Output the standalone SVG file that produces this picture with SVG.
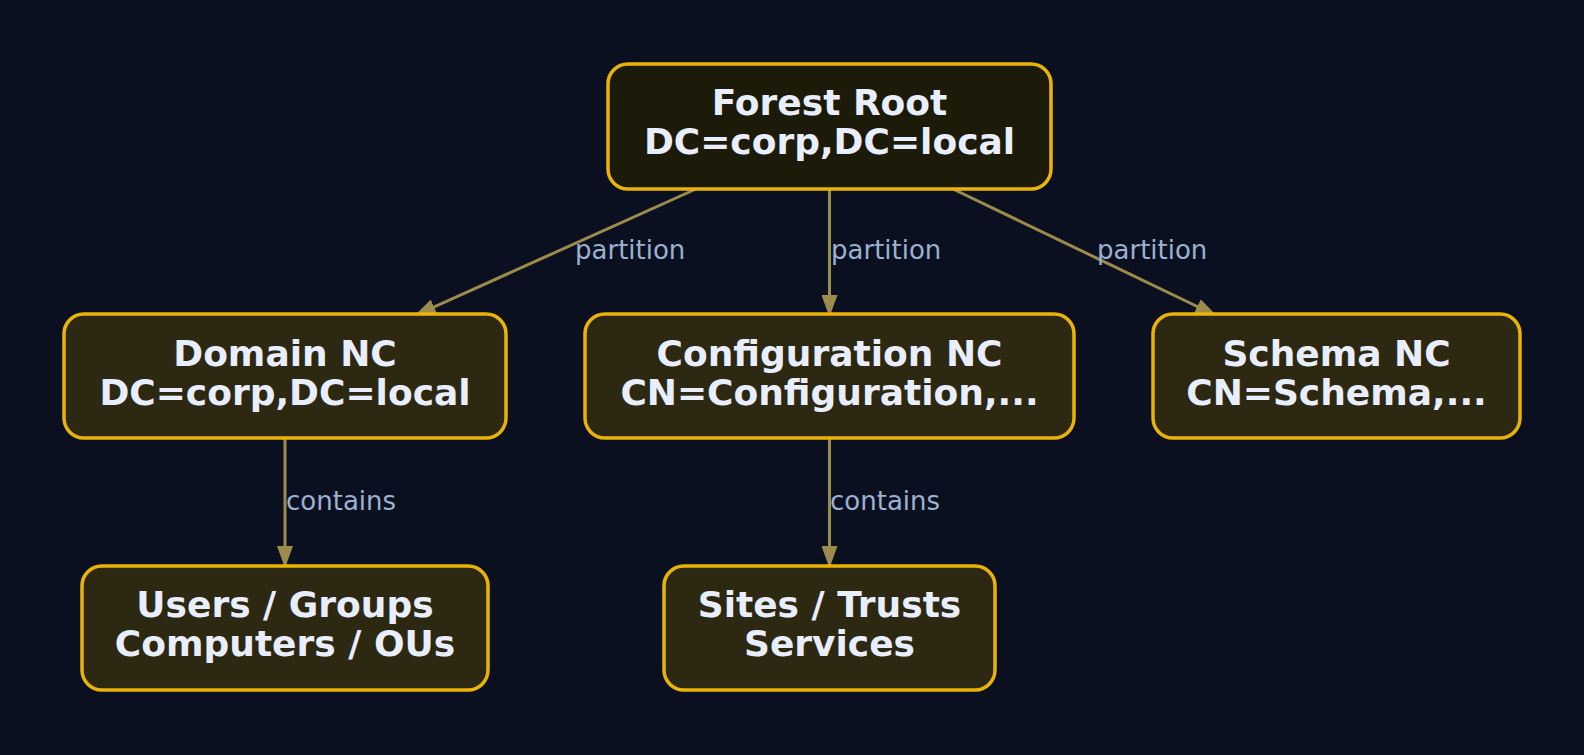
<svg xmlns="http://www.w3.org/2000/svg" width="1584" height="755" viewBox="0 0 1584 755">
  <style>
    .node rect { stroke: #eab308; stroke-width: 3.5; }
    .root rect { fill: #1c1a09; }
    .nc rect { fill: #2d2812; }
    .node text { font-family: "DejaVu Sans", sans-serif; font-weight: bold; font-size: 36px; fill: #e8eefc; text-anchor: middle; }
    .edge { stroke: #9c8b4c; stroke-width: 3; fill: none; marker-end: url(#arrow); }
    .elabel { font-family: "DejaVu Sans", sans-serif; font-size: 26px; fill: #9cb0d2; }
  </style>
  <defs>
    <marker id="arrow" markerUnits="userSpaceOnUse" markerWidth="22" markerHeight="16" refX="22" refY="8" orient="auto">
      <path d="M0,0 L22,8 L0,16 z" fill="#9c8b4c"/>
    </marker>
  </defs>
  <rect x="0" y="0" width="1584" height="755" fill="#0b1020"/>

  <g id="connectors">
    <line class="edge" x1="696" y1="189" x2="414" y2="316"/>
    <line class="edge" x1="829.5" y1="189" x2="829.5" y2="317"/>
    <line class="edge" x1="953" y1="189" x2="1217" y2="316"/>
    <line class="edge" x1="285" y1="438" x2="285" y2="568"/>
    <line class="edge" x1="829.5" y1="438" x2="829.5" y2="568"/>
    <text class="elabel" x="575" y="259">partition</text>
    <text class="elabel" x="831" y="259">partition</text>
    <text class="elabel" x="1097" y="259">partition</text>
    <text class="elabel" x="286" y="510">contains</text>
    <text class="elabel" x="830" y="510">contains</text>
  </g>

  <g id="forest-root" class="node root">
    <rect x="608" y="64" width="443" height="125" rx="20"/>
    <text x="829.5" y="115">Forest Root</text>
    <text x="829.5" y="154">DC=corp,DC=local</text>
  </g>
  <g id="domain-nc" class="node nc">
    <rect x="64" y="314" width="442" height="124" rx="20"/>
    <text x="285" y="366">Domain NC</text>
    <text x="285" y="405">DC=corp,DC=local</text>
  </g>
  <g id="config-nc" class="node nc">
    <rect x="585" y="314" width="489" height="124" rx="20"/>
    <text x="829.5" y="366">Configuration NC</text>
    <text x="829.5" y="405">CN=Configuration,...</text>
  </g>
  <g id="schema-nc" class="node nc">
    <rect x="1153" y="314" width="367" height="124" rx="20"/>
    <text x="1336.5" y="366">Schema NC</text>
    <text x="1336.5" y="405">CN=Schema,...</text>
  </g>
  <g id="users" class="node nc">
    <rect x="82" y="566" width="406" height="124" rx="20"/>
    <text x="285" y="617">Users / Groups</text>
    <text x="285" y="656">Computers / OUs</text>
  </g>
  <g id="sites" class="node nc">
    <rect x="664" y="566" width="331" height="124" rx="20"/>
    <text x="829.5" y="617">Sites / Trusts</text>
    <text x="829.5" y="656">Services</text>
  </g>
</svg>
